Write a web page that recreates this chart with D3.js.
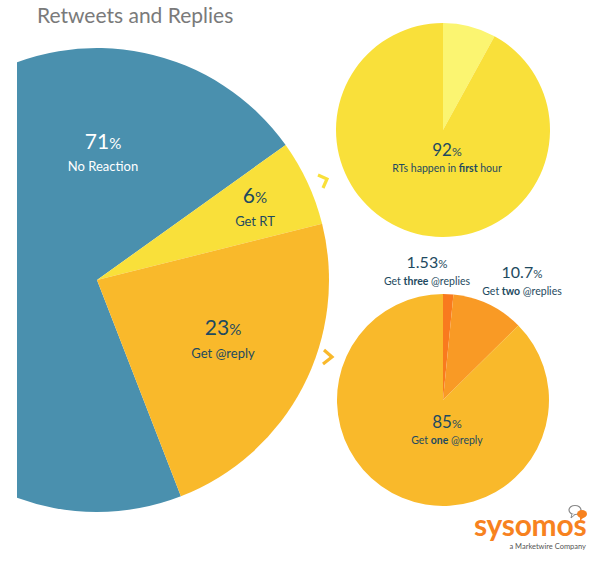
<!DOCTYPE html>
<html>
<head>
<meta charset="utf-8">
<script src="https://cdn.jsdelivr.net/npm/d3@7"></script>
<style>
  html, body { margin: 0; padding: 0; background: #fff; }
  svg { display: block; }
  text { font-family: Lato, "Open Sans", sans-serif; }
</style>
</head>
<body>
<svg id="chart" width="610" height="561"></svg>
<script>
// ---- data ----
const title = "Retweets and Replies";

const mainCategories = ["No Reaction", "Get RT", "Get @reply"];
const mainValues = [71, 6, 23];
const mainColors = ["#4a90ae", "#f9e03a", "#f9b92b"];

const rtCategories = ["later", "first hour"];
const rtValues = [8, 92];
const rtColors = ["#fbf571", "#f9e03a"];

const replyCategories = ["three", "two", "one"];
const replyValues = [1.53, 10.7, 85];
const replyColors = ["#f97a1e", "#f99a25", "#f9b92b"];

// ---- drawing ----
const svg = d3.select("#chart");
const deg = Math.PI / 180;
const darkText = "#1e4a60";

svg.append("text")
  .attr("x", 37).attr("y", 23)
  .attr("font-size", 21)
  .attr("fill", "#7a7a7a")
  .text(title);

// clip for the big pie
svg.append("defs").append("clipPath").attr("id", "leftclip")
  .append("rect").attr("x", 17).attr("y", 0).attr("width", 600).attr("height", 561);

function drawPie(cx, cy, r, values, colors, startDeg, clip) {
  const pie = d3.pie().sort(null).value(d => d)
    .startAngle(startDeg * deg).endAngle(startDeg * deg + 2 * Math.PI);
  const arc = d3.arc().innerRadius(0).outerRadius(r);
  const outer = svg.append("g");
  if (clip) outer.attr("clip-path", "url(#leftclip)");
  const host = outer.append("g").attr("transform", `translate(${cx},${cy})`);
  host.selectAll("path").data(pie(values)).join("path")
    .attr("d", arc)
    .attr("fill", (d, i) => colors[i]);
  return host;
}

drawPie(97, 280, 232, mainValues, mainColors, 158.8, true);
drawPie(443, 130, 107, rtValues, rtColors, 0, false);
drawPie(443, 400, 106, replyValues, replyColors, 0, false);

// labels
function label(x, y, num, lines, color, numSize, lineSize, gap) {
  const t = svg.append("text").attr("x", x).attr("y", y)
    .attr("text-anchor", "middle").attr("fill", color);
  t.append("tspan").attr("font-size", numSize).text(num);
  t.append("tspan").attr("font-size", numSize * 0.72).text("%");
  const l = svg.append("text").attr("x", x).attr("y", y + gap)
    .attr("text-anchor", "middle").attr("fill", color).attr("font-size", lineSize);
  lines.forEach(p => {
    l.append("tspan").attr("font-weight", p.b ? "bold" : "normal").text(p.t);
  });
}

label(103, 149, "71", [{t: "No Reaction"}], "#ffffff", 21, 13, 22);
label(255, 203, "6", [{t: "Get RT"}], darkText, 21, 13, 23);
label(223, 335, "23", [{t: "Get @reply"}], darkText, 21, 13, 23);

label(447, 156, "92", [{t: "RTs happen in "}, {t: "first", b: true}, {t: " hour"}], darkText, 17, 10.5, 16);
label(427, 268, "1.53", [{t: "Get "}, {t: "three", b: true}, {t: " @replies"}], darkText, 16, 10.5, 17);
label(522, 278, "10.7", [{t: "Get "}, {t: "two", b: true}, {t: " @replies"}], darkText, 16, 10.5, 17);
label(447, 428, "85", [{t: "Get "}, {t: "one", b: true}, {t: " @reply"}], darkText, 17, 10.5, 16);

// chevrons
const line = d3.line();
svg.append("path")
  .attr("d", line([[318, 175], [327, 179], [323, 188]]))
  .attr("fill", "none").attr("stroke", "#f9e03a").attr("stroke-width", 3.2)
  .attr("stroke-linejoin", "miter");
svg.append("path")
  .attr("d", line([[324, 350], [332, 357], [323, 364]]))
  .attr("fill", "none").attr("stroke", "#f9b92b").attr("stroke-width", 3.2)
  .attr("stroke-linejoin", "miter");

// logo
svg.append("text").attr("x", 474).attr("y", 536)
  .attr("font-size", 30).attr("font-weight", "bold")
  .attr("fill", "#f7821f").attr("letter-spacing", -0.3)
  .text("sysomos");
svg.append("text").attr("x", 586).attr("y", 549)
  .attr("text-anchor", "end")
  .attr("font-size", 7.5).attr("fill", "#555")
  .text("a Marketwire Company");
// speech bubbles
svg.append("ellipse").attr("cx", 575).attr("cy", 510).attr("rx", 6).attr("ry", 4.5)
  .attr("fill", "none").attr("stroke", "#888").attr("stroke-width", 1.2);
svg.append("path").attr("d", line([[572, 514], [571, 518], [575, 514.5]]))
  .attr("fill", "#fff").attr("stroke", "#888").attr("stroke-width", 1);
svg.append("ellipse").attr("cx", 582).attr("cy", 514).attr("rx", 5).attr("ry", 4)
  .attr("fill", "#f7821f");
svg.append("path").attr("d", line([[580, 517], [580, 521], [584, 517]]))
  .attr("fill", "#f7821f");
</script>
</body>
</html>
